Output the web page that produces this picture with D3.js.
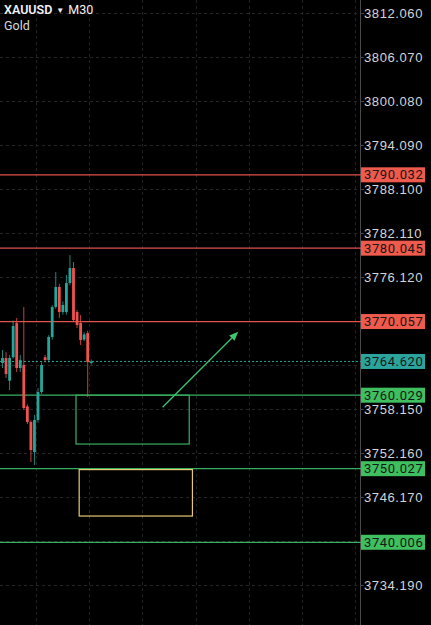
<!DOCTYPE html>
<html>
<head>
<meta charset="utf-8">
<script src="https://cdn.jsdelivr.net/npm/d3@7"></script>
<style>
  html, body { margin: 0; padding: 0; background: #000; overflow: hidden; }
  svg { display: block; font-family: Roboto, "Liberation Sans", sans-serif; }
</style>
</head>
<body>
<div id="chart"></div>
<script>
// XAUUSD M30 candles (bar index 0..25)
var opens  = [3764.41, 3765.09, 3762.00, 3765.20, 3769.85, 3763.73, 3764.14, 3758.50, 3756.38, 3752.30, 3756.65, 3760.46, 3765.20,
              3764.82, 3767.95, 3772.03, 3774.76, 3771.35, 3771.35, 3775.30, 3777.34, 3771.35, 3769.85, 3767.60, 3768.49, 3764.41];
var highs  = [3766.18, 3765.90, 3765.50, 3770.20, 3770.54, 3765.50, 3772.03, 3758.80, 3756.60, 3757.33, 3761.00, 3764.50, 3765.50,
              3768.20, 3772.30, 3776.80, 3775.20, 3772.80, 3776.39, 3779.11, 3778.16, 3771.62, 3770.94, 3768.60, 3768.80, 3764.90];
var lows   = [3763.73, 3762.37, 3760.73, 3765.00, 3763.18, 3763.20, 3758.01, 3756.10, 3750.93, 3750.52, 3756.30, 3760.20, 3764.50,
              3764.50, 3767.60, 3771.80, 3770.54, 3771.00, 3771.00, 3775.00, 3770.00, 3769.17, 3766.86, 3767.40, 3759.78, 3764.20];
var closes = [3765.09, 3762.91, 3765.10, 3769.45, 3763.73, 3764.80, 3758.28, 3756.38, 3752.56, 3756.65, 3760.46, 3764.14, 3764.82,
              3767.95, 3772.03, 3774.76, 3771.35, 3772.31, 3775.30, 3777.34, 3770.26, 3769.58, 3767.54, 3768.30, 3764.54, 3764.62];

// price axis
var yTicks = [3812.06, 3806.07, 3800.08, 3794.09, 3788.10, 3782.11, 3776.12, 3770.13, 3764.14,
              3758.15, 3752.16, 3746.17, 3740.18, 3734.19];
// time grid positions (in bars)
var timeGrid = [9.4, 24.4, 39.4, 54.4, 69.4, 84.4, 99.4];

// drawn levels
var resistLevels = [3790.032, 3780.045, 3770.057];
var supportLevels = [3760.029, 3750.027, 3740.006];
var lastPrice = 3764.620;

// zones: [startBar, endBar, topPrice, bottomPrice]
var buyZone = [20.7, 52.6, 3760.029, 3753.38];
var targetZone = [21.6, 53.5, 3749.90, 3743.58];
// arrow: [startBar, startPrice, endBar, endPrice]
var arrowLine = [45.1, 3758.38, 66.4, 3768.67];

var W = 431, H = 625, axisX = 360;
var upColor = '#26a69a', downColor = '#ef5350';
var redLine = '#e0524a', greenLine = '#37b062';

var x = d3.scaleLinear().domain([0, 100]).range([2.5, 2.5 + 355]);
var y = d3.scaleLinear().domain([3734.19, 3812.06]).range([585, 13]);

var svg = d3.select('#chart').append('svg')
  .attr('width', W).attr('height', H)
  .style('background', '#000');

svg.append('defs').append('clipPath').attr('id', 'plot')
  .append('rect').attr('x', 0).attr('y', 0).attr('width', axisX).attr('height', H);

var plot = svg.append('g').attr('clip-path', 'url(#plot)');

// grid
plot.selectAll('.hgrid').data(yTicks).enter().append('line')
  .attr('x1', 0).attr('x2', axisX)
  .attr('y1', function(d) { return Math.round(y(d)) + 0.5; })
  .attr('y2', function(d) { return Math.round(y(d)) + 0.5; })
  .attr('stroke', '#262626').attr('stroke-dasharray', '3,3');
plot.selectAll('.vgrid').data(timeGrid).enter().append('line')
  .attr('y1', 0).attr('y2', H)
  .attr('x1', function(d) { return Math.round(x(d)) + 0.5; })
  .attr('x2', function(d) { return Math.round(x(d)) + 0.5; })
  .attr('stroke', '#222').attr('stroke-dasharray', '3,3');

// level lines
plot.selectAll('.res').data(resistLevels).enter().append('line')
  .attr('x1', 0).attr('x2', axisX)
  .attr('y1', function(d) { return y(d); }).attr('y2', function(d) { return y(d); })
  .attr('stroke', redLine).attr('stroke-width', 1.2);
plot.selectAll('.sup').data(supportLevels).enter().append('line')
  .attr('x1', 0).attr('x2', axisX)
  .attr('y1', function(d) { return y(d); }).attr('y2', function(d) { return y(d); })
  .attr('stroke', greenLine).attr('stroke-width', 1.2);

// last price dotted line
plot.append('line')
  .attr('x1', 0).attr('x2', axisX)
  .attr('y1', y(lastPrice)).attr('y2', y(lastPrice))
  .attr('stroke', upColor).attr('stroke-dasharray', '2,2');

// zones
plot.append('rect')
  .attr('x', x(buyZone[0])).attr('y', y(buyZone[2]))
  .attr('width', x(buyZone[1]) - x(buyZone[0]))
  .attr('height', y(buyZone[3]) - y(buyZone[2]))
  .attr('fill', 'none').attr('stroke', greenLine).attr('stroke-width', 1.2);
plot.append('rect')
  .attr('x', x(targetZone[0])).attr('y', y(targetZone[2]))
  .attr('width', x(targetZone[1]) - x(targetZone[0]))
  .attr('height', y(targetZone[3]) - y(targetZone[2]))
  .attr('fill', 'none').attr('stroke', '#e8c872').attr('stroke-width', 1.2);

// candles
var bars = d3.range(opens.length);
plot.selectAll('.wick').data(bars).enter().append('line')
  .attr('x1', function(i) { return x(i); }).attr('x2', function(i) { return x(i); })
  .attr('y1', function(i) { return y(highs[i]); }).attr('y2', function(i) { return y(lows[i]); })
  .attr('stroke', function(i) { return closes[i] >= opens[i] ? upColor : downColor; })
  .attr('stroke-width', 0.8);
plot.selectAll('.body').data(bars).enter().append('rect')
  .attr('x', function(i) { return x(i) - 1.4; })
  .attr('width', 2.8)
  .attr('y', function(i) { return y(Math.max(opens[i], closes[i])); })
  .attr('height', function(i) { return Math.max(1, Math.abs(y(opens[i]) - y(closes[i]))); })
  .attr('fill', function(i) { return closes[i] >= opens[i] ? upColor : downColor; });

// arrow
var ax1 = x(arrowLine[0]), ay1 = y(arrowLine[1]), ax2 = x(arrowLine[2]), ay2 = y(arrowLine[3]);
var ang = Math.atan2(ay2 - ay1, ax2 - ax1);
plot.append('line')
  .attr('x1', ax1).attr('y1', ay1).attr('x2', ax2 - 4 * Math.cos(ang)).attr('y2', ay2 - 4 * Math.sin(ang))
  .attr('stroke', '#3fc46f').attr('stroke-width', 1.3);
var hl = 9, hw = 3.8;
var bx = ax2 - hl * Math.cos(ang), by = ay2 - hl * Math.sin(ang);
plot.append('path')
  .attr('d', 'M' + ax2 + ',' + ay2 +
    'L' + (bx + hw * Math.sin(ang)) + ',' + (by - hw * Math.cos(ang)) +
    'L' + (bx - hw * Math.sin(ang)) + ',' + (by + hw * Math.cos(ang)) + 'Z')
  .attr('fill', '#3fc46f');

// price axis
var tags = resistLevels.concat(supportLevels, [lastPrice]);
var axis = svg.append('g')
  .attr('transform', 'translate(' + axisX + ',0)')
  .call(d3.axisRight(y).tickValues(yTicks).tickSize(4).tickPadding(0).tickFormat(d3.format('.3f')));
axis.select('.domain').attr('stroke', '#4a4a4a').attr('d', 'M0.5,0V' + H);
axis.selectAll('.tick line').attr('stroke', '#4a4a4a');
axis.selectAll('.tick text')
  .attr('fill', '#d6d6d6').attr('font-size', 13).attr('letter-spacing', 0.6).attr('x', 4)
  .style('display', function(d) {
    return tags.some(function(t) { return Math.abs(y(t) - y(d)) < 11; }) ? 'none' : null;
  });

// price tags
var tagData = resistLevels.map(function(v) { return { v: v, c: '#ee5a4c' }; })
  .concat(supportLevels.map(function(v) { return { v: v, c: '#3fbf5f' }; }))
  .concat([{ v: lastPrice, c: '#2aa49c' }]);
var tg = svg.selectAll('.tag').data(tagData).enter().append('g')
  .attr('transform', function(d) { return 'translate(' + axisX + ',' + y(d.v) + ')'; });
tg.append('line').attr('x1', 0).attr('x2', 4).attr('stroke', function(d) { return d.c; });
tg.append('rect')
  .attr('x', 1).attr('y', -7.5).attr('width', 64).attr('height', 15)
  .attr('fill', function(d) { return d.c; });
tg.append('text')
  .attr('x', 4).attr('dy', '0.35em')
  .attr('font-size', 13).attr('letter-spacing', 0.6).attr('fill', '#161616')
  .text(function(d) { return d3.format('.3f')(d.v); });

// title
var title = svg.append('text').attr('x', 4).attr('y', 14).attr('font-size', 12.5).attr('fill', '#f2f2f2');
title.append('tspan').attr('font-weight', 600).text('XAUUSD');
title.append('tspan').attr('font-size', 8).attr('dx', 4).attr('dy', -1).text('▼');
title.append('tspan').attr('dx', 4).attr('dy', 1).text('M30');
svg.append('text').attr('x', 4).attr('y', 30).attr('font-size', 12.5).attr('fill', '#d8d8d8').text('Gold');
</script>
</body>
</html>
